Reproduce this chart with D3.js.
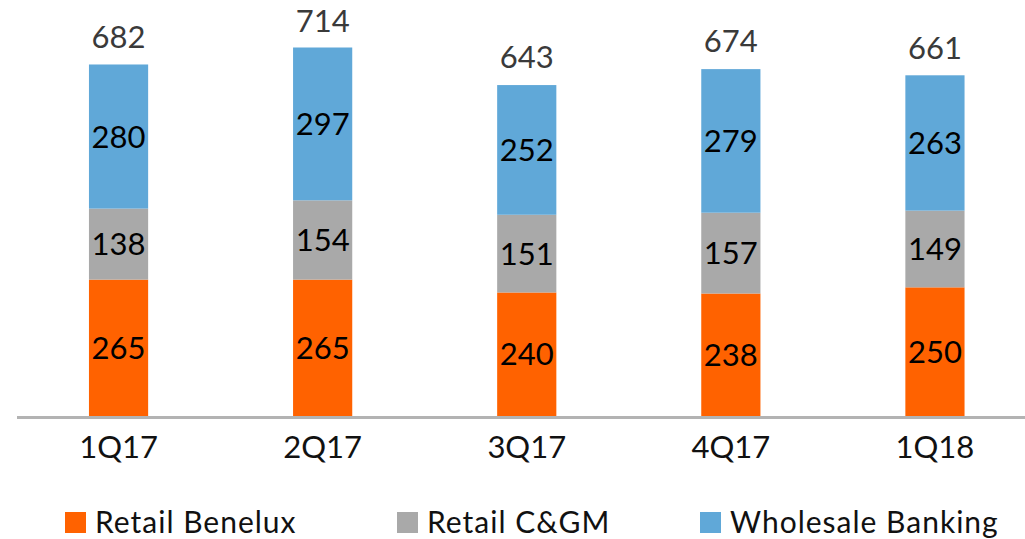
<!DOCTYPE html>
<html>
<head>
<meta charset="utf-8">
<script src="https://cdn.jsdelivr.net/npm/d3@7"></script>
<style>
  body { margin: 0; background: #fff; }
  svg text { font-family: Lato, "Open Sans", sans-serif; }
</style>
</head>
<body>
<svg id="chart" width="1025" height="539"></svg>
<script>
// chart data
var quarters = ["1Q17", "2Q17", "3Q17", "4Q17", "1Q18"];
var retailBenelux = [265, 265, 240, 238, 250];
var retailCGM = [138, 154, 151, 157, 149];
var wholesale = [280, 297, 252, 279, 263];
var totals = [682, 714, 643, 674, 661];

var seriesNames = ["Retail Benelux", "Retail C&GM", "Wholesale Banking"];
var seriesColors = ["#ff6200", "#a9a9a9", "#60a8d8"];

var svg = d3.select("#chart");

var baseY = 416;

// build rows for the stack layout
var rows = quarters.map(function (q, i) {
    return {
        q: q,
        "Retail Benelux": retailBenelux[i],
        "Retail C&GM": retailCGM[i],
        "Wholesale Banking": wholesale[i]
    };
});

var stack = d3.stack().keys(seriesNames);
var layers = stack(rows);

var x = d3.scaleBand()
    .domain(quarters)
    .range([16.5, 1037])
    .paddingInner(0.71)
    .paddingOuter(0.355);

var y = d3.scaleLinear()
    .domain([0, 682])
    .range([baseY, 65]);

var color = d3.scaleOrdinal().domain(seriesNames).range(seriesColors);

// bars
var layer = svg.selectAll("g.layer")
    .data(layers)
    .enter().append("g")
    .attr("class", "layer")
    .style("fill", function (d) { return color(d.key); });

layer.selectAll("rect")
    .data(function (d) { return d; })
    .enter().append("rect")
    .attr("x", function (d) { return x(d.data.q); })
    .attr("width", x.bandwidth())
    .attr("y", function (d) { return y(d[1]); })
    .attr("height", function (d) { return y(d[0]) - y(d[1]); });

// segment labels
layer.selectAll("text")
    .data(function (d) { return d; })
    .enter().append("text")
    .attr("x", function (d) { return x(d.data.q) + x.bandwidth() / 2; })
    .attr("y", function (d) { return (y(d[0]) + y(d[1])) / 2 + 11; })
    .attr("text-anchor", "middle")
    .style("fill", "#000")
    .style("font-size", "31px")
    .text(function (d) { return d[1] - d[0]; });

// totals on top
svg.selectAll("text.total")
    .data(quarters)
    .enter().append("text")
    .attr("class", "total")
    .attr("x", function (d) { return x(d) + x.bandwidth() / 2; })
    .attr("y", function (d, i) { return y(totals[i]) - 17; })
    .attr("text-anchor", "middle")
    .style("fill", "#3a3a3a")
    .style("font-size", "31px")
    .text(function (d, i) { return totals[i]; });

// x axis
var xAxis = d3.axisBottom(x).tickSize(0).tickPadding(18);
var axisG = svg.append("g")
    .attr("transform", "translate(0," + (baseY + 1.5) + ")")
    .call(xAxis);
axisG.select(".domain").remove();
axisG.append("line")
    .attr("x1", 17).attr("x2", 1025)
    .attr("stroke", "#b3b3b3")
    .attr("stroke-width", 3);
axisG.selectAll(".tick text")
    .style("font-size", "31px")
    .style("fill", "#111")
    .style("font-family", "Lato, 'Open Sans', sans-serif");

// legend
var legendX = [65, 397, 700];
var legend = svg.selectAll("g.legend")
    .data(seriesNames)
    .enter().append("g")
    .attr("class", "legend")
    .attr("transform", function (d, i) { return "translate(" + legendX[i] + ",512)"; });

legend.append("rect")
    .attr("width", 21).attr("height", 21)
    .style("fill", function (d) { return color(d); });

legend.append("text")
    .attr("x", 30)
    .attr("y", 21)
    .style("font-size", "30px")
    .style("letter-spacing", "1px")
    .style("fill", "#111")
    .text(function (d) { return d; });
</script>
</body>
</html>
